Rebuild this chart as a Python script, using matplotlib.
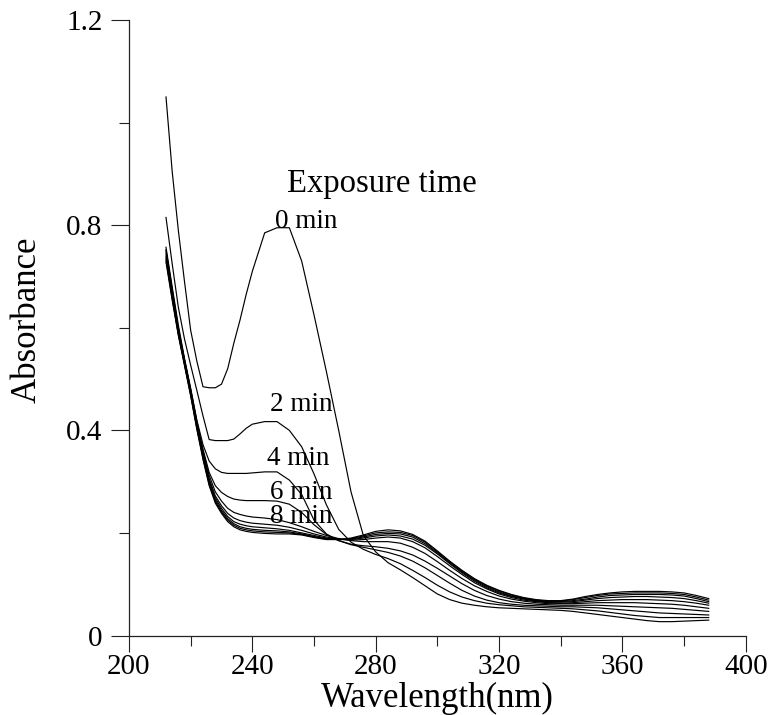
import matplotlib
matplotlib.use("Agg")
import matplotlib.pyplot as plt
from matplotlib.ticker import MultipleLocator, FuncFormatter

plt.rcParams['font.family'] = ['Liberation Serif', 'DejaVu Serif']

# Wavelength grid (nm)
wavelength = [212, 214, 216, 218, 220, 222, 224, 226, 228, 230, 232, 234, 236, 238, 240,
              244, 248, 252, 256, 260, 264, 268, 272, 276, 280, 284, 288, 292, 296, 300,
              304, 308, 312, 316, 320, 324, 328, 332, 336, 340, 344, 348, 352, 356, 360,
              364, 368, 372, 376, 380, 384, 388]

# Absorbance spectra at successive exposure times (min)
abs_t0 = [1.050, 0.905, 0.790, 0.690, 0.595, 0.535, 0.485, 0.483, 0.483, 0.490, 0.520, 0.570, 0.615, 0.665, 0.710,
          0.785, 0.795, 0.795, 0.730, 0.625, 0.515, 0.400, 0.280, 0.195, 0.163, 0.142, 0.128, 0.113, 0.097, 0.081,
          0.070, 0.063, 0.059, 0.056, 0.054, 0.053, 0.052, 0.051, 0.050, 0.049, 0.047, 0.044, 0.041, 0.038, 0.035,
          0.032, 0.029, 0.027, 0.027, 0.028, 0.029, 0.030]
abs_t2 = [0.815, 0.725, 0.640, 0.578, 0.527, 0.478, 0.428, 0.382, 0.380, 0.380, 0.380, 0.383, 0.393, 0.404, 0.412,
          0.417, 0.417, 0.400, 0.368, 0.315, 0.255, 0.207, 0.182, 0.168, 0.158, 0.150, 0.140, 0.127, 0.113, 0.098,
          0.085, 0.075, 0.068, 0.063, 0.060, 0.058, 0.056, 0.055, 0.054, 0.053, 0.052, 0.050, 0.048, 0.045, 0.042,
          0.039, 0.037, 0.035, 0.035, 0.035, 0.035, 0.035]
abs_t4 = [0.757, 0.680, 0.605, 0.540, 0.482, 0.420, 0.372, 0.340, 0.325, 0.318, 0.316, 0.316, 0.316, 0.316, 0.317,
          0.319, 0.319, 0.303, 0.275, 0.225, 0.198, 0.185, 0.177, 0.172, 0.167, 0.162, 0.155, 0.145, 0.132, 0.117,
          0.102, 0.088, 0.077, 0.069, 0.064, 0.061, 0.059, 0.058, 0.057, 0.056, 0.056, 0.055, 0.054, 0.052, 0.050,
          0.048, 0.046, 0.044, 0.043, 0.042, 0.041, 0.040]
abs_t6 = [0.752, 0.675, 0.600, 0.538, 0.480, 0.418, 0.363, 0.318, 0.292, 0.279, 0.271, 0.266, 0.264, 0.263, 0.263,
          0.263, 0.262, 0.256, 0.240, 0.216, 0.197, 0.185, 0.178, 0.175, 0.173, 0.170, 0.165, 0.157, 0.145, 0.131,
          0.116, 0.101, 0.088, 0.078, 0.071, 0.066, 0.063, 0.061, 0.060, 0.059, 0.059, 0.059, 0.059, 0.058, 0.057,
          0.056, 0.055, 0.054, 0.053, 0.051, 0.049, 0.047]
abs_t8 = [0.750, 0.672, 0.598, 0.537, 0.478, 0.415, 0.360, 0.312, 0.280, 0.262, 0.248, 0.240, 0.236, 0.233, 0.231,
          0.229, 0.226, 0.220, 0.212, 0.203, 0.195, 0.189, 0.185, 0.183, 0.183, 0.183, 0.180, 0.172, 0.160, 0.144,
          0.127, 0.111, 0.097, 0.086, 0.077, 0.071, 0.067, 0.064, 0.062, 0.062, 0.062, 0.063, 0.064, 0.064, 0.064,
          0.064, 0.063, 0.062, 0.061, 0.059, 0.056, 0.053]
abs_t10 = [0.745, 0.668, 0.595, 0.535, 0.476, 0.412, 0.356, 0.306, 0.272, 0.253, 0.238, 0.229, 0.224, 0.221, 0.219,
           0.217, 0.215, 0.211, 0.205, 0.198, 0.192, 0.188, 0.186, 0.187, 0.190, 0.192, 0.190, 0.183, 0.171, 0.154,
           0.136, 0.119, 0.103, 0.091, 0.081, 0.074, 0.069, 0.066, 0.064, 0.063, 0.064, 0.066, 0.068, 0.069, 0.070,
           0.070, 0.070, 0.069, 0.068, 0.066, 0.063, 0.059]
abs_t12 = [0.740, 0.664, 0.592, 0.532, 0.473, 0.409, 0.352, 0.302, 0.268, 0.248, 0.232, 0.222, 0.217, 0.214, 0.212,
           0.210, 0.208, 0.205, 0.200, 0.195, 0.190, 0.187, 0.187, 0.190, 0.194, 0.196, 0.194, 0.188, 0.176, 0.159,
           0.140, 0.122, 0.106, 0.093, 0.083, 0.076, 0.071, 0.067, 0.065, 0.065, 0.066, 0.069, 0.072, 0.074, 0.075,
           0.076, 0.076, 0.075, 0.074, 0.072, 0.068, 0.063]
abs_t14 = [0.736, 0.660, 0.589, 0.530, 0.471, 0.406, 0.349, 0.298, 0.264, 0.244, 0.228, 0.218, 0.212, 0.209, 0.207,
           0.205, 0.204, 0.202, 0.198, 0.193, 0.189, 0.187, 0.188, 0.192, 0.197, 0.199, 0.198, 0.192, 0.179, 0.161,
           0.142, 0.124, 0.108, 0.095, 0.085, 0.077, 0.072, 0.068, 0.066, 0.066, 0.068, 0.071, 0.075, 0.078, 0.079,
           0.080, 0.080, 0.080, 0.079, 0.077, 0.072, 0.066]
abs_t16 = [0.732, 0.657, 0.587, 0.528, 0.469, 0.404, 0.346, 0.295, 0.261, 0.241, 0.225, 0.215, 0.209, 0.206, 0.204,
           0.202, 0.201, 0.200, 0.197, 0.192, 0.188, 0.187, 0.189, 0.194, 0.200, 0.202, 0.201, 0.195, 0.182, 0.163,
           0.144, 0.126, 0.110, 0.097, 0.087, 0.079, 0.073, 0.069, 0.067, 0.067, 0.070, 0.074, 0.078, 0.081, 0.082,
           0.083, 0.083, 0.083, 0.082, 0.080, 0.075, 0.069]
abs_t18 = [0.728, 0.654, 0.585, 0.526, 0.467, 0.402, 0.343, 0.292, 0.258, 0.238, 0.222, 0.212, 0.206, 0.203, 0.201,
           0.199, 0.198, 0.198, 0.196, 0.191, 0.187, 0.187, 0.190, 0.196, 0.203, 0.206, 0.204, 0.197, 0.184, 0.165,
           0.145, 0.127, 0.111, 0.098, 0.088, 0.080, 0.074, 0.070, 0.068, 0.068, 0.071, 0.076, 0.080, 0.083, 0.085,
           0.086, 0.086, 0.086, 0.085, 0.083, 0.078, 0.072]

spectra = [abs_t0, abs_t2, abs_t4, abs_t6, abs_t8, abs_t10, abs_t12, abs_t14, abs_t16, abs_t18]

# Annotation labels
legend_title = "Exposure time"
curve_labels = ["0 min", "2 min", "4 min", "6 min", "8 min"]
curve_label_x = [247.4, 245.7, 244.7, 245.7, 245.7]
curve_label_y = [0.795, 0.438, 0.332, 0.2655, 0.220]

x_ticks = [200, 240, 280, 320, 360, 400]
y_ticks = [0, 0.4, 0.8, 1.2]

W, H = 769, 715
fig = plt.figure(figsize=(W / 100, H / 100), dpi=100)
ax = fig.add_axes([129 / W, 1 - 635.5 / H, (745.7 - 129) / W, (635.5 - 20) / H])

for s in spectra:
    ax.plot(wavelength, s, color='black', lw=0.85, solid_joinstyle='miter')

ax.set_xlim(200, 400)
ax.set_ylim(0, 1.2)
ax.set_xticks(x_ticks)
ax.set_yticks(y_ticks)
ax.xaxis.set_minor_locator(MultipleLocator(20))
ax.yaxis.set_minor_locator(MultipleLocator(0.2))
ax.yaxis.set_major_formatter(FuncFormatter(lambda v, p: "0" if abs(v) < 1e-9 else f"{v:.1f}"))

for side in ('top', 'right'):
    ax.spines[side].set_visible(False)
for side in ('left', 'bottom'):
    ax.spines[side].set_linewidth(0.9)
    ax.spines[side].set_color('#222222')

ax.tick_params(axis='y', which='major', length=13, width=0.8, pad=6, labelsize=21, color='#222222')
ax.tick_params(axis='x', which='major', length=11.5, width=0.8, pad=2, labelsize=21, color='#222222')
ax.tick_params(axis='both', which='minor', length=7.5, width=0.8, color='#222222')

ax.set_xlabel("Wavelength(nm)", fontsize=25, va='baseline')
ax.xaxis.set_label_coords(0.5, (635.5 - 707) / 615.5)
ax.set_ylabel("Absorbance", fontsize=25, va='baseline')
ax.yaxis.set_label_coords((36 - 129) / 616.7, 0.5126)

ax.text(251.3, 0.865, legend_title, fontsize=23.5, ha='left', va='baseline')
for lab, lx, ly in zip(curve_labels, curve_label_x, curve_label_y):
    ax.text(lx, ly, lab, fontsize=19.5, ha='left', va='baseline')

fig.savefig("out.png", dpi=100)
